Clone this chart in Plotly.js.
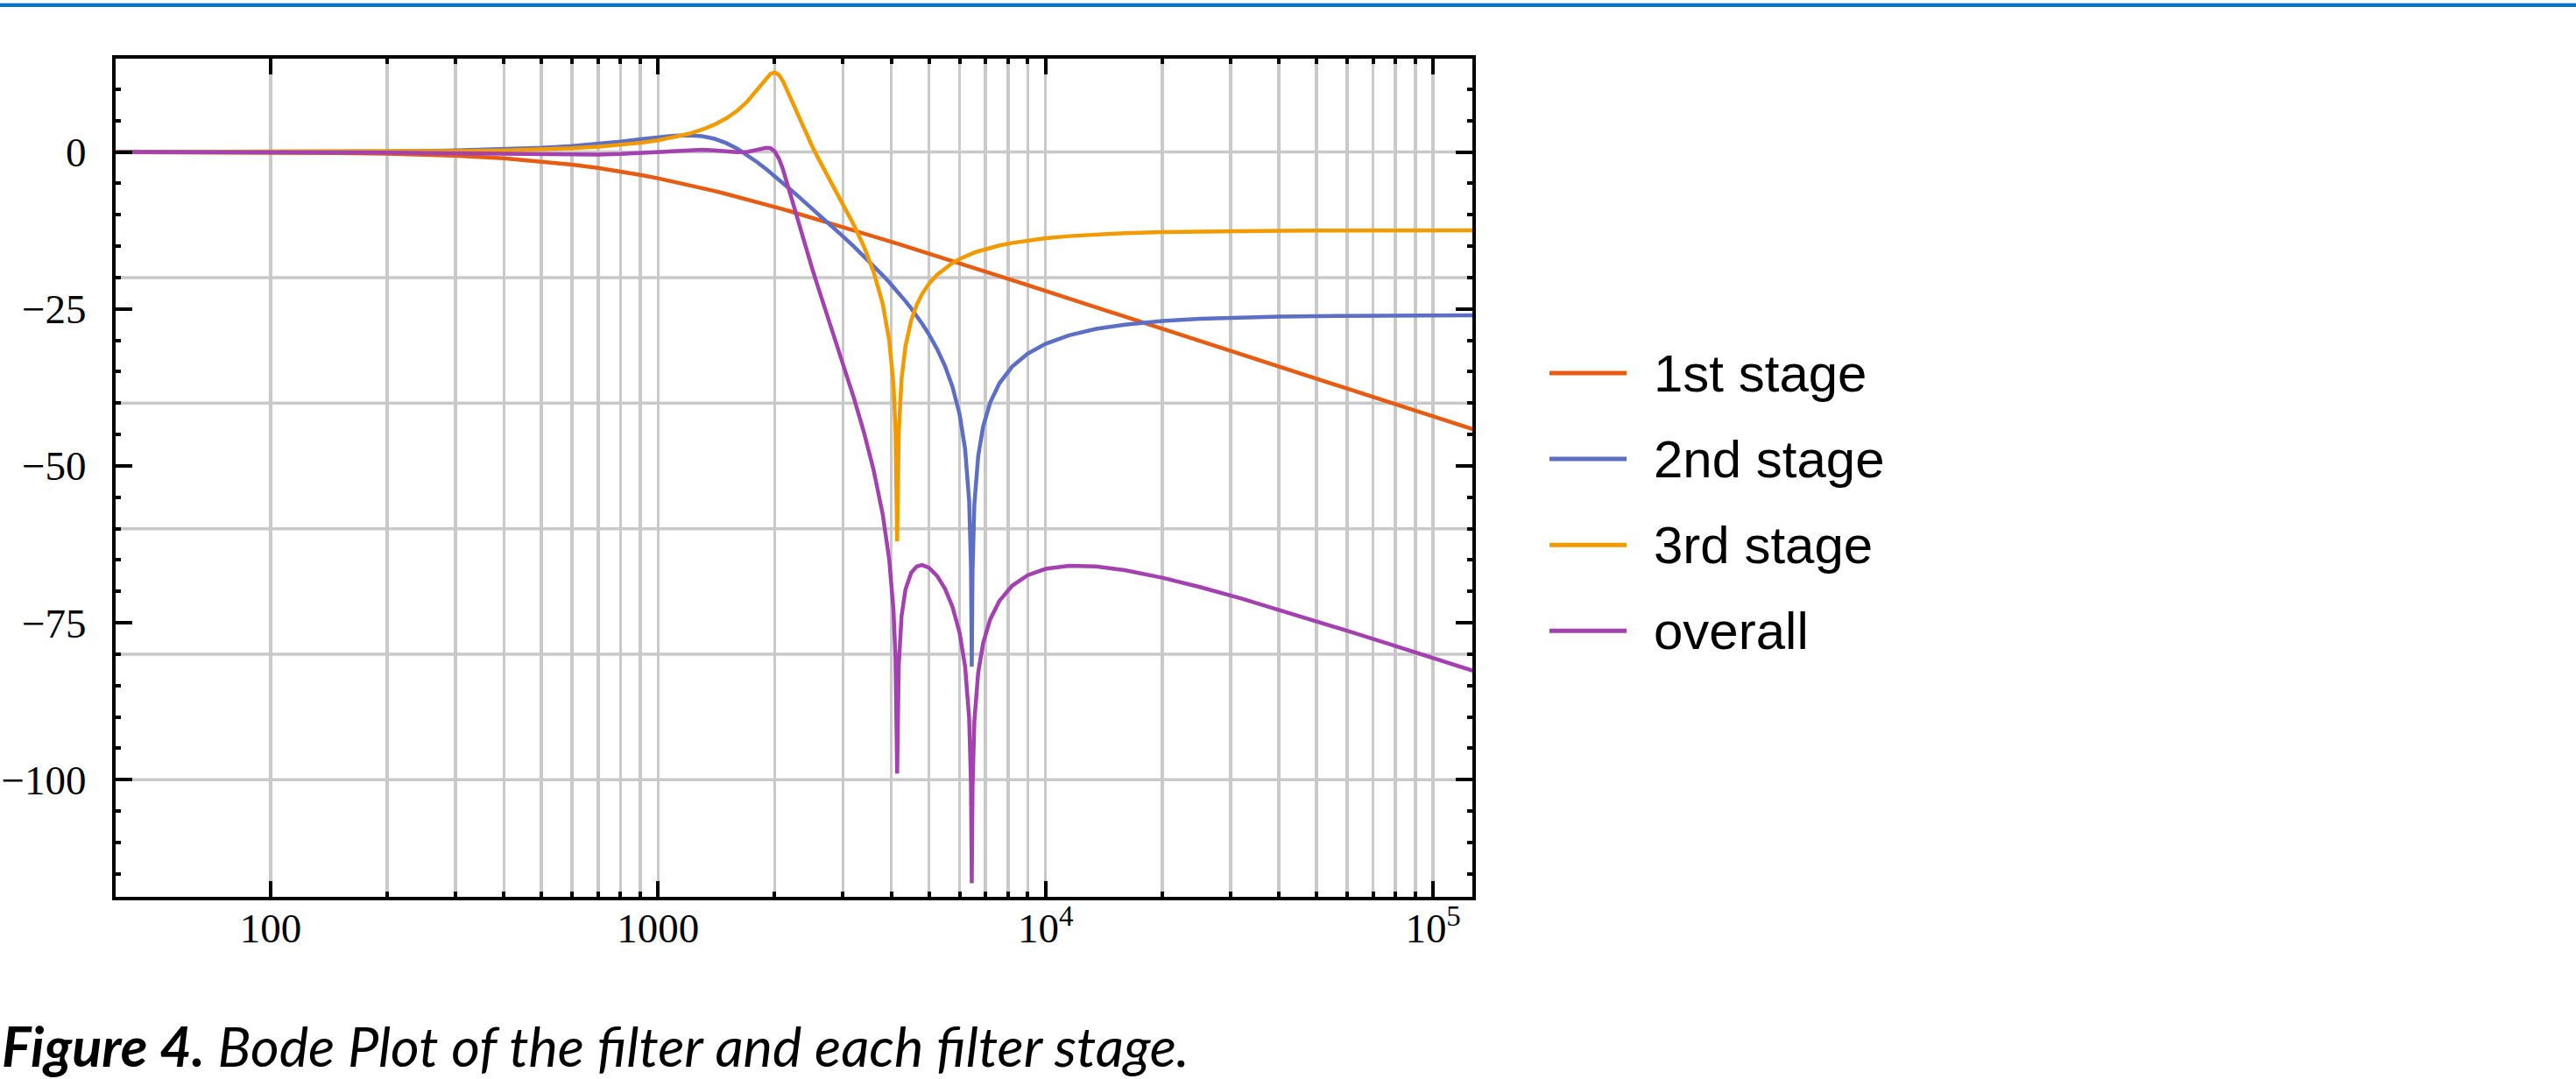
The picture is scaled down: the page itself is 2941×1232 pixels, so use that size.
<!DOCTYPE html>
<html>
<head>
<meta charset="utf-8">
<script src="https://cdn.plot.ly/plotly-3.0.1.min.js"></script>
<style>
html,body{margin:0;padding:0;background:#ffffff;}
#chart{position:absolute;left:0;top:0;width:2941px;height:1232px;}
#barLight{position:absolute;left:0;top:3px;width:2941px;height:1px;background:#9fcbee;}
#barDark{position:absolute;left:0;top:4px;width:2941px;height:4px;background:#0b6fc2;}
</style>
</head>
<body>
<div id="chart"></div>
<div id="barLight"></div>
<div id="barDark"></div>
<script>
// ---- data (frequency in Hz, gain in dB) ----
const freqHz = [40, 70, 100, 150, 200, 300, 400, 500, 600, 700,
  800, 900, 1000, 1100, 1200, 1300, 1400, 1500, 1600, 1700,
  1800, 1900, 1950, 2000, 2050, 2100, 2200, 2300, 2400, 2500,
  2600, 2800, 3000, 3200, 3400, 3600, 3800, 3950, 4050, 4100,
  4140, 4180, 4250, 4350, 4500, 4650, 4800, 5000, 5250, 5500,
  5750, 6000, 6200, 6350, 6420, 6450, 6480, 6550, 6700, 6900,
  7200, 7600, 8200, 9000, 10000, 11500, 13500, 16000, 20000, 25000,
  32000, 40000, 50000, 63000, 80000, 100000, 127700];

const stage1 = [-0.01, -0.03, -0.07, -0.16, -0.27, -0.59, -1.00, -1.48, -2.00, -2.54,
  -3.09, -3.64, -4.19, -4.72, -5.23, -5.73, -6.21, -6.68, -7.12, -7.55,
  -7.96, -8.36, -8.56, -8.75, -8.93, -9.12, -9.47, -9.82, -10.15, -10.47,
  -10.78, -11.37, -11.93, -12.46, -12.96, -13.43, -13.88, -14.20, -14.41, -14.51,
  -14.60, -14.68, -14.82, -15.01, -15.30, -15.57, -15.84, -16.19, -16.60, -17.00,
  -17.38, -17.74, -18.02, -18.22, -18.32, -18.36, -18.40, -18.49, -18.68, -18.94,
  -19.30, -19.77, -20.42, -21.22, -22.13, -23.34, -24.72, -26.20, -28.13, -30.07,
  -32.21, -34.15, -36.08, -38.09, -40.17, -42.10, -44.23];

const stage2 = [0.00, 0.01, 0.03, 0.06, 0.11, 0.24, 0.43, 0.68, 0.97, 1.30,
  1.66, 2.02, 2.35, 2.59, 2.67, 2.52, 2.10, 1.42, 0.54, -0.49,
  -1.59, -2.72, -3.28, -3.84, -4.40, -4.94, -6.01, -7.05, -8.05, -9.02,
  -9.96, -11.74, -13.44, -15.05, -16.62, -18.14, -19.63, -20.75, -21.50, -21.87,
  -22.17, -22.47, -23.00, -23.75, -24.91, -26.10, -27.32, -29.04, -31.39, -34.08,
  -37.36, -41.78, -47.32, -55.54, -65.9, -82.0, -66.8, -56.19, -48.47, -43.74,
  -39.86, -36.86, -34.19, -32.11, -30.55, -29.19, -28.18, -27.50, -26.93, -26.58,
  -26.35, -26.22, -26.14, -26.09, -26.05, -26.03, -26.02];

const stage3 = [0.00, 0.01, 0.02, 0.04, 0.06, 0.14, 0.26, 0.41, 0.60, 0.84,
  1.12, 1.46, 1.86, 2.33, 2.90, 3.57, 4.38, 5.37, 6.57, 8.06,
  9.85, 11.75, 12.45, 12.69, 12.29, 11.31, 8.54, 5.71, 3.15, 0.88,
  -1.19, -4.89, -8.28, -11.62, -15.11, -19.09, -24.21, -30.02, -36.98, -44.24,
  -62.0, -44.61, -36.12, -30.91, -26.82, -24.35, -22.63, -20.99, -19.54, -18.49,
  -17.68, -17.05, -16.63, -16.35, -16.24, -16.19, -16.14, -16.03, -15.82, -15.57,
  -15.24, -14.89, -14.48, -14.08, -13.73, -13.40, -13.12, -12.92, -12.75, -12.64,
  -12.57, -12.53, -12.50, -12.48, -12.47, -12.46, -12.46];

const overall = [0.00, -0.01, -0.03, -0.06, -0.10, -0.20, -0.31, -0.39, -0.43, -0.41,
  -0.32, -0.17, 0.02, 0.20, 0.33, 0.36, 0.27, 0.12, -0.01, 0.02,
  0.30, 0.67, 0.61, 0.10, -1.04, -2.75, -6.94, -11.16, -15.05, -18.61,
  -21.92, -28.00, -33.65, -39.13, -44.69, -50.66, -57.72, -64.97, -72.88, -80.63,
  -99.0, -81.76, -73.93, -69.68, -67.02, -66.02, -65.79, -66.22, -67.53, -69.56,
  -72.42, -76.57, -81.97, -90.12, -100.45, -116.5, -101.32, -90.71, -82.98, -78.24,
  -74.41, -71.51, -69.09, -67.41, -66.41, -65.92, -66.03, -66.61, -67.81, -69.29,
  -71.13, -72.90, -74.73, -76.66, -78.69, -80.59, -82.71];

const seriesNames = ['1st stage', '2nd stage', '3rd stage', 'overall'];
const seriesColors = ['#e65c12', '#5d6fc5', '#f29b00', '#a441b0'];

// axis ticks / labels
const xMajorTicks = [100, 1000, 10000, 100000];
const xTickLabels = ['100', '1000', '10<sup>4</sup>', '10<sup>5</sup>'];
const xMinorTicks = [200, 300, 400, 500, 600, 700, 800, 900,
  2000, 3000, 4000, 5000, 6000, 7000, 8000, 9000,
  20000, 30000, 40000, 50000, 60000, 70000, 80000, 90000];
const yGridValues = [0, -20, -40, -60, -80, -100];

const captionText = '<b><i>Figure 4.</i></b><i> Bode Plot of the filter and each filter stage.</i>';

// ---- geometry helpers (pixels of the 2941x1232 page -> paper coords) ----
const M = { l: 132, r: 1260, t: 67, b: 208 };
const W = 2941, H = 1232;
const plotW = W - M.l - M.r, plotH = H - M.t - M.b;
const pxX = px => (px - M.l) / plotW;
const pxY = py => (H - M.b - py) / plotH;

// legend placement (pixels)
const LEG = { lineX0: 1769, lineX1: 1857, textX: 1886, rowY0: 426, rowGap: 98.1 };

// ---- traces ----
const seriesData = [stage1, stage2, stage3, overall];
const traces = seriesData.map((vals, i) => ({
  type: 'scatter',
  mode: 'lines',
  x: freqHz,
  y: vals,
  name: seriesNames[i],
  showlegend: false,
  line: { color: seriesColors[i], width: 4.5 }
}));

const gridColor = '#c9c9c9';
const tickFont = { family: 'Liberation Serif, Times New Roman, serif', size: 47, color: '#000000' };

const gridShapes = yGridValues.map(v => ({
  type: 'line', layer: 'below',
  xref: 'paper', x0: 0, x1: 1,
  yref: 'y', y0: v, y1: v,
  line: { color: gridColor, width: 3.5 }
}));

const legendShapes = seriesNames.map((n, i) => ({
  type: 'line', layer: 'above',
  xref: 'paper', yref: 'paper',
  x0: pxX(LEG.lineX0), x1: pxX(LEG.lineX1),
  y0: pxY(LEG.rowY0 + i * LEG.rowGap), y1: pxY(LEG.rowY0 + i * LEG.rowGap),
  line: { color: seriesColors[i], width: 5 }
}));

const legendLabels = seriesNames.map((n, i) => ({
  xref: 'paper', yref: 'paper',
  x: pxX(LEG.textX), y: pxY(LEG.rowY0 + i * LEG.rowGap),
  xanchor: 'left', yanchor: 'middle',
  showarrow: false,
  text: n,
  font: { family: 'Liberation Sans, Arial, sans-serif', size: 60, color: '#000000' }
}));

const layout = {
  width: W,
  height: H,
  margin: M,
  paper_bgcolor: '#ffffff',
  plot_bgcolor: '#ffffff',
  showlegend: false,
  xaxis: {
    type: 'log',
    range: [1.6001, 5.1015],
    tickmode: 'array',
    tickvals: xMajorTicks,
    ticktext: xTickLabels,
    ticks: 'inside', ticklen: 18, tickwidth: 4, tickcolor: '#000000',
    showline: true, linecolor: '#000000', linewidth: 4, mirror: 'ticks',
    showgrid: true, gridcolor: gridColor, gridwidth: 3.5,
    zeroline: false,
    tickfont: tickFont,
    ticklabelstandoff: -8,
    minor: {
      tickmode: 'array', tickvals: xMinorTicks,
      ticks: 'inside', ticklen: 6, tickwidth: 4, tickcolor: '#000000',
      showgrid: true, gridcolor: gridColor, gridwidth: 3.5
    }
  },
  yaxis: {
    range: [-118.65, 14.87],
    tickmode: 'linear', tick0: 0, dtick: 25,
    ticks: 'inside', ticklen: 19, tickwidth: 4, tickcolor: '#000000',
    showline: true, linecolor: '#000000', linewidth: 4, mirror: 'ticks',
    showgrid: false, zeroline: false,
    tickfont: tickFont,
    ticklabelstandoff: 20,
    minor: {
      tick0: 0, dtick: 5,
      ticks: 'inside', ticklen: 6, tickwidth: 4, tickcolor: '#000000',
      showgrid: false
    }
  },
  shapes: gridShapes.concat(legendShapes),
  annotations: legendLabels.concat([{
    xref: 'paper', yref: 'paper',
    x: pxX(0), y: pxY(1193),
    xanchor: 'left', yanchor: 'middle',
    showarrow: false,
    text: captionText,
    font: { family: 'Lato, Open Sans, sans-serif', size: 63, color: '#000000' }
  }])
};

Plotly.newPlot('chart', traces, layout, { staticPlot: true, displayModeBar: false });
</script>
</body>
</html>
